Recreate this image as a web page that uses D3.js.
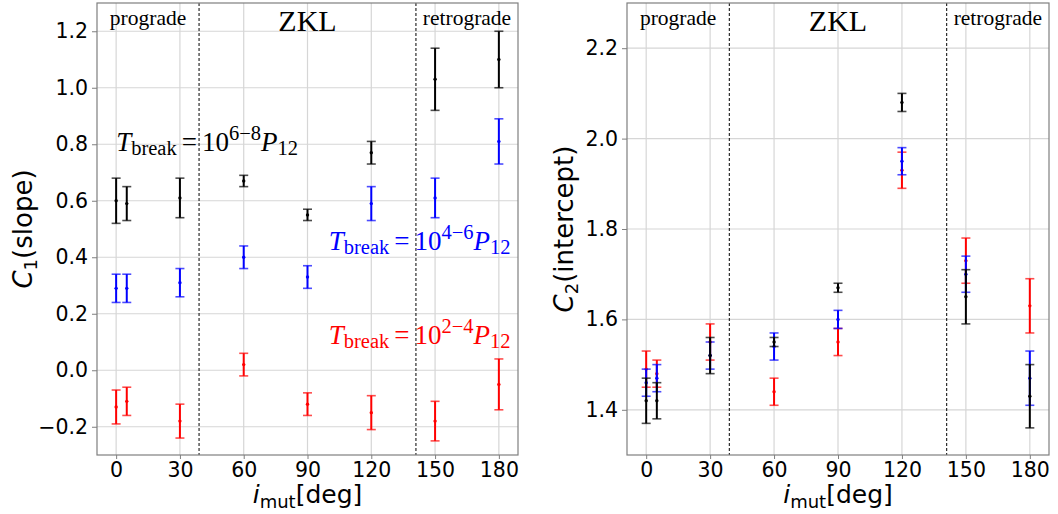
<!DOCTYPE html>
<html>
<head>
<meta charset="utf-8">
<script src="https://cdn.jsdelivr.net/npm/d3@7"></script>
<style>
	body { margin: 0; background: #fff; }
	svg { display: block; }
	text { font-family: "DejaVu Sans", sans-serif; }
</style>
</head>
<body>
<div id="chart"></div>
<script>
// mutual inclinations [deg]
const inclinations = [0, 5, 30, 60, 90, 120, 150, 180];
const xTicks = [0, 30, 60, 90, 120, 150, 180];
const regimeBounds = [39, 141];
const regimeLabels = ["prograde", "ZKL", "retrograde"];

// C1 (slope), one array per T_break range
const slopeLong = [0.6, 0.59, 0.61, 0.67, 0.55, 0.77, 1.03, 1.1];
const slopeLongErr = [0.08, 0.06, 0.07, 0.02, 0.02, 0.04, 0.11, 0.1];
const slopeMid = [0.29, 0.29, 0.31, 0.4, 0.33, 0.59, 0.61, 0.81];
const slopeMidErr = [0.05, 0.05, 0.05, 0.04, 0.04, 0.06, 0.07, 0.08];
const slopeShort = [-0.13, -0.11, -0.18, 0.02, -0.12, -0.15, -0.18, -0.05];
const slopeShortErr = [0.06, 0.05, 0.06, 0.04, 0.04, 0.06, 0.07, 0.09];
const slopeTicks = [-0.2, 0.0, 0.2, 0.4, 0.6, 0.8, 1.0, 1.2];

// C2 (intercept)
const interLong = [1.42, 1.42, 1.52, 1.55, 1.67, 2.08, 1.65, 1.43];
const interLongErr = [0.05, 0.04, 0.04, 0.01, 0.01, 0.02, 0.06, 0.07];
const interMid = [1.46, 1.47, 1.52, 1.54, 1.6, 1.95, 1.7, 1.47];
const interMidErr = [0.03, 0.03, 0.03, 0.03, 0.02, 0.03, 0.04, 0.06];
const interShort = [1.49, 1.48, 1.55, 1.44, 1.55, 1.93, 1.73, 1.63];
const interShortErr = [0.04, 0.03, 0.04, 0.03, 0.03, 0.04, 0.05, 0.06];
const interTicks = [1.4, 1.6, 1.8, 2.0, 2.2];

// T_break exponent ranges and colours
const breakRanges = ["6\u22128", "4\u22126", "2\u22124"];
const breakColors = ["#000000", "#0000ff", "#ff0000"];

const width = 1058, height = 514;
const svg = d3.select("#chart").append("svg").attr("width", width).attr("height", height);

drawPanel({
	left: 97, right: 518, top: 3, bottom: 455,
	yDomain: [-0.3, 1.3], yTicks: slopeTicks, yFormat: d3.format(".1f"),
	ySub: "1", yName: "(slope)", yLabelX: 23,
	series: [
		{ values: slopeLong, errors: slopeLongErr, range: 0 },
		{ values: slopeMid, errors: slopeMidErr, range: 1 },
		{ values: slopeShort, errors: slopeShortErr, range: 2 },
	],
	notes: [
		{ x: 0, y: 0.775, range: 0 },
		{ x: 100, y: 0.425, range: 1 },
		{ x: 100, y: 0.093, range: 2 },
	],
});

drawPanel({
	left: 627, right: 1049, top: 3, bottom: 455,
	yDomain: [1.3, 2.3], yTicks: interTicks, yFormat: d3.format(".1f"),
	ySub: "2", yName: "(intercept)", yLabelX: 564,
	// black drawn last so it sits on top
	series: [
		{ values: interShort, errors: interShortErr, range: 2 },
		{ values: interMid, errors: interMidErr, range: 1 },
		{ values: interLong, errors: interLongErr, range: 0 },
	],
	notes: [],
});

function drawPanel(p) {
	let x = d3.scaleLinear().domain([-9, 189]).range([p.left, p.right]);
	let y = d3.scaleLinear().domain(p.yDomain).range([p.bottom, p.top]);
	let g = svg.append("g");

	// grid
	g.selectAll(".vgrid").data(xTicks).enter().append("line")
		.attr("x1", (d) => x(d)).attr("x2", (d) => x(d))
		.attr("y1", p.top).attr("y2", p.bottom)
		.attr("stroke", "#d6d6d6").attr("stroke-width", 1.2);
	g.selectAll(".hgrid").data(p.yTicks).enter().append("line")
		.attr("x1", p.left).attr("x2", p.right)
		.attr("y1", (d) => y(d)).attr("y2", (d) => y(d))
		.attr("stroke", "#d6d6d6").attr("stroke-width", 1.2);

	// regime boundaries
	g.selectAll(".bound").data(regimeBounds).enter().append("line")
		.attr("x1", (d) => x(d)).attr("x2", (d) => x(d))
		.attr("y1", p.top).attr("y2", p.bottom)
		.attr("stroke", "#000").attr("stroke-width", 1).attr("stroke-dasharray", "3,2");

	let centers = [(-9 + regimeBounds[0]) / 2, (regimeBounds[0] + regimeBounds[1]) / 2, (regimeBounds[1] + 189) / 2];
	g.selectAll(".regime").data(regimeLabels).enter().append("text")
		.attr("x", (d, i) => x(centers[i]))
		.attr("y", (d, i) => (i == 1 ? 31 : 25))
		.attr("text-anchor", "middle")
		.style("font-family", '"Liberation Serif", serif')
		.style("font-size", (d, i) => (i == 1 ? "30px" : "21.5px"))
		.text((d) => d);

	// error bars
	p.series.forEach((s) => {
		let color = breakColors[s.range];
		let sg = g.append("g");
		let pts = inclinations.map((inc, i) => ({ inc: inc, v: s.values[i], e: s.errors[i] }));
		sg.selectAll(".bar").data(pts).enter().append("line")
			.attr("x1", (d) => x(d.inc)).attr("x2", (d) => x(d.inc))
			.attr("y1", (d) => y(d.v - d.e)).attr("y2", (d) => y(d.v + d.e))
			.attr("stroke", color).attr("stroke-width", 2);
		[-1, 1].forEach((sign) => {
			sg.selectAll(".cap" + sign).data(pts).enter().append("line")
				.attr("x1", (d) => x(d.inc) - 4.5).attr("x2", (d) => x(d.inc) + 4.5)
				.attr("y1", (d) => y(d.v + sign * d.e)).attr("y2", (d) => y(d.v + sign * d.e))
				.attr("stroke", color).attr("stroke-width", 1.6).attr("stroke-opacity", 0.7);
		});
		sg.selectAll("circle").data(pts).enter().append("circle")
			.attr("cx", (d) => x(d.inc)).attr("cy", (d) => y(d.v))
			.attr("r", 1.7).attr("fill", color);
	});

	// spines
	g.append("rect")
		.attr("x", p.left).attr("y", p.top)
		.attr("width", p.right - p.left).attr("height", p.bottom - p.top)
		.attr("fill", "none").attr("stroke", "#7f7f7f").attr("stroke-width", 1.2);

	// axes
	let xAxis = d3.axisBottom(x).tickValues(xTicks).tickSize(4).tickPadding(3);
	let yAxis = d3.axisLeft(y).tickValues(p.yTicks).tickFormat((d) => p.yFormat(d).replace("-", "\u2212")).tickSize(5).tickPadding(4);
	let xa = g.append("g").attr("transform", `translate(0,${p.bottom})`).call(xAxis);
	let ya = g.append("g").attr("transform", `translate(${p.left},0)`).call(yAxis);
	[xa, ya].forEach((a) => {
		a.select(".domain").remove();
		a.selectAll(".tick line").attr("stroke", "#7f7f7f");
		a.selectAll(".tick text").attr("fill", "#000").style("font-size", "20.5px").style("font-family", '"DejaVu Sans", sans-serif');
	});

	// x label
	let xl = g.append("text")
		.attr("x", (p.left + p.right) / 2).attr("y", 503)
		.attr("text-anchor", "middle").style("font-size", "25px");
	xl.append("tspan").style("font-style", "italic").text("i");
	xl.append("tspan").attr("dy", 5).style("font-size", "18px").text("mut");
	xl.append("tspan").attr("dy", -5).text("[deg]");

	// y label
	let yl = g.append("text")
		.attr("transform", `translate(${p.yLabelX},${(p.top + p.bottom) / 2}) rotate(-90)`)
		.attr("text-anchor", "middle").attr("dy", "0.35em").style("font-size", "26px");
	yl.append("tspan").style("font-style", "italic").text("C");
	yl.append("tspan").attr("dy", 5).style("font-size", "18px").text(p.ySub);
	yl.append("tspan").attr("dy", -5).text(p.yName);

	// T_break annotations
	p.notes.forEach((n) => {
		let t = g.append("text")
			.attr("x", x(n.x)).attr("y", y(n.y))
			.attr("fill", breakColors[n.range])
			.style("font-family", '"Liberation Serif", serif').style("font-size", "27px");
		t.append("tspan").style("font-style", "italic").text("T");
		t.append("tspan").attr("dy", 4).style("font-size", "20.5px").text("break");
		t.append("tspan").attr("dy", -4).attr("dx", 5).text("=");
		t.append("tspan").attr("dx", 5).text("10");
		t.append("tspan").attr("dy", -11).style("font-size", "20.5px").text(breakRanges[n.range]);
		t.append("tspan").attr("dy", 11).style("font-style", "italic").text("P");
		t.append("tspan").attr("dy", 4).style("font-size", "20.5px").text("12");
	});
}
</script>
</body>
</html>
